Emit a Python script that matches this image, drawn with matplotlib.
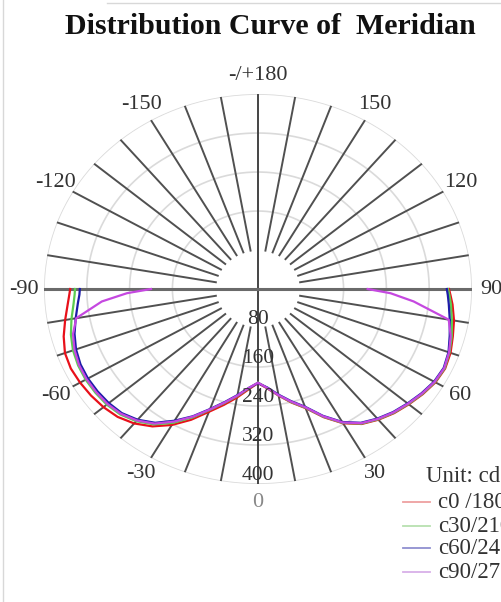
import numpy as np
import matplotlib
matplotlib.use('Agg')
import matplotlib.pyplot as plt
from matplotlib.lines import Line2D

plt.rcParams['font.family'] = ['Liberation Serif', 'DejaVu Serif']

# gamma angles (deg), 0 = straight down
angles = [-90, -88, -85, -80, -75, -70, -65, -60, -55, -50, -45, -40, -35, -30, -25,
          -20, -15, -10, -5, 0, 5, 10, 15, 20, 25, 30, 35, 40, 45, 50, 55, 60, 65,
          70, 75, 80, 85, 88, 90]

c0_180 = [351, 353, 357, 366, 376, 384, 386, 384, 381, 377, 371, 360, 344, 322, 296,
          268, 246, 226, 207, 193, 205, 222, 241, 260, 290, 318, 338, 350, 360, 368,
          376, 383, 386, 383, 377, 372, 365, 360, 357]
c30_210 = [342, 343, 346, 354, 362, 368, 371, 372, 371, 369, 364, 354, 339, 317, 291,
           264, 242, 223, 205, 192, 204, 221, 240, 259, 289, 317, 337, 349, 359, 367,
           375, 382, 385, 381, 375, 368, 362, 358, 355]
c60_240 = [333, 334, 338, 346, 355, 362, 366, 367, 366, 364, 360, 350, 335, 312, 288,
           262, 240, 221, 204, 193, 203, 220, 238, 257, 287, 315, 335, 347, 357, 365,
           373, 380, 383, 379, 371, 364, 358, 355, 353]
c90_270 = [200, 245, 293, 345, 358, 365, 369, 370, 369, 367, 362, 352, 337, 314, 289,
           263, 241, 222, 204, 192, 204, 221, 239, 258, 288, 316, 336, 348, 358, 366,
           374, 381, 384, 380, 373, 362, 292, 248, 205]

series = {'c0 /180': c0_180, 'c30/210': c30_210, 'c60/240': c60_240, 'c90/270': c90_270}
colors = ['#e8101a', '#5ccc50', '#1c1ca8', '#c548e0']
legend_colors = ['#eea0a0', '#b8e0b0', '#9090d0', '#d8b0e8']

rings = [80, 160, 240, 320, 400]
angle_labels = [0, 30, 60, 90, 120, 150, 180, -150, -120, -90, -60, -30]

fig = plt.figure(figsize=(5.01, 6.02), dpi=100)
ax = fig.add_axes([0.0878, 0.196, 0.8543, 0.6478], projection='polar')
ax.set_aspect('auto')
ax.set_theta_zero_location('S')
ax.set_theta_direction(1)
ax.set_ylim(0, 400)
ax.set_xticks([])
ax.set_yticks([])
ax.grid(False)
ax.spines['polar'].set_visible(False)

full = np.linspace(0, 2 * np.pi, 361)
for r in rings[1:]:
    ax.plot(full, [r] * len(full), color='#dadada', lw=1.2, zorder=1)

for a in range(0, 360, 10):
    if a % 90 == 0:
        continue
    t = np.deg2rad(a)
    ax.plot([t, t], [80, 400], color='#505050', lw=1.4, zorder=2)

# main axes through the centre
ax.plot([np.pi, np.pi], [400, 0], color='#444444', lw=1.4, zorder=3)
ax.plot([0, 0], [0, 400], color='#444444', lw=1.4, zorder=3)
ax.plot([np.pi / 2, np.pi / 2], [0, 400], color='#6a6a6a', lw=2.2, zorder=3)
ax.plot([-np.pi / 2, -np.pi / 2], [0, 400], color='#6a6a6a', lw=2.2, zorder=3)

th = np.deg2rad(angles)
for (name, vals), c in zip(series.items(), colors):
    ax.plot(th, vals, color=c, lw=1.6, zorder=5)

for a in angle_labels:
    txt = '-/+180' if a == 180 else str(a)
    col = '#888888' if a == 0 else '#333333'
    ax.text(np.deg2rad(a), 437, txt, ha='center', va='center', fontsize=16,
            color=col, clip_on=False)

for r in rings:
    ax.text(0, r - 17, str(r), ha='center', va='center', fontsize=15.5,
            color='#333333', zorder=6)

fig.text(270 / 501, 1 - 27 / 602, 'Distribution Curve of  Meridian', ha='center',
         va='center', fontsize=21.5, fontweight='bold', color='#111111')

# legend (runs off the right edge like the original)
fig.text(426 / 501, 1 - 476 / 602, 'Unit: cd', ha='left', va='center', fontsize=16.5,
         color='#333333')
rows = [502, 526, 548, 572]
for (name, _), lc, y in zip(series.items(), legend_colors, rows):
    yf = 1 - y / 602
    fig.add_artist(Line2D([403 / 501, 430 / 501], [yf, yf], color=lc, lw=1.3,
                          transform=fig.transFigure))
    fig.text(438 / 501, yf, name, ha='left', va='center', fontsize=16.5, color='#333333')

# faint frame
fig.add_artist(Line2D([3 / 501, 3 / 501], [0, 1], color='#d8d8d8', lw=1,
                      transform=fig.transFigure))
fig.add_artist(Line2D([107 / 501, 1], [1 - 3 / 602, 1 - 3 / 602], color='#d8d8d8',
                      lw=1, transform=fig.transFigure))

fig.savefig('out.png', dpi=100)
